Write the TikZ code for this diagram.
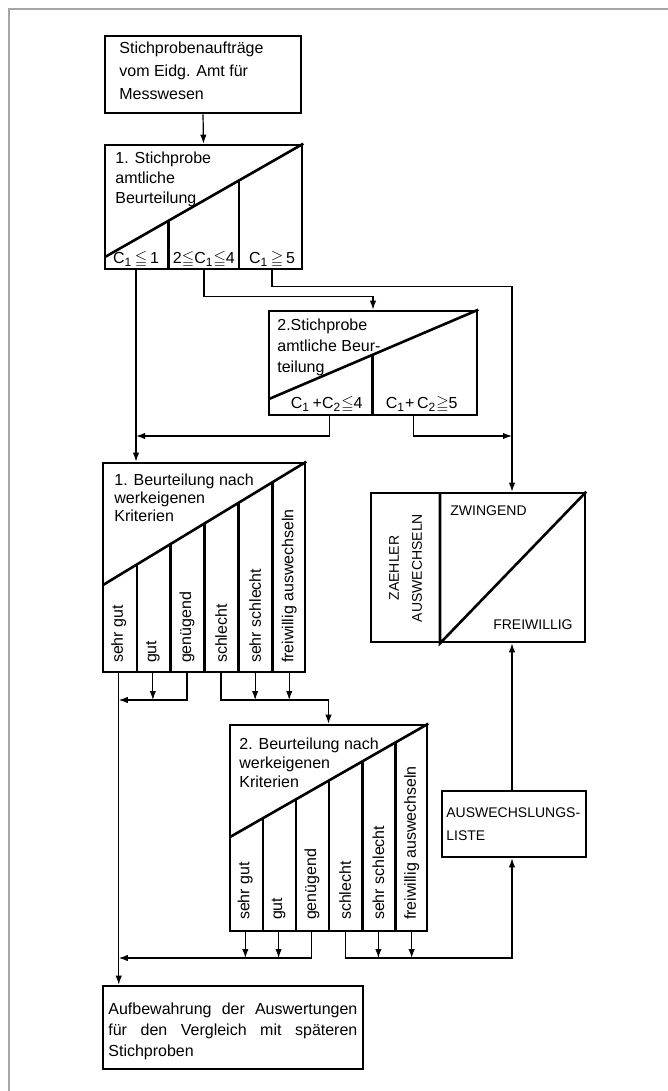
\documentclass[tikz,border=0pt]{standalone}
\usepackage{amssymb}
\usepackage{fontspec}
\setmainfont{Liberation Sans}
\usetikzlibrary{arrows.meta,calc,fit}
\tikzset{
    box/.style={rectangle, draw, line width=1.3pt, inner sep=0pt},
    part/.style={line width=1.3pt},
    line/.style={line width=0.6pt},
    arrow/.style={line, -{Latex[length=4.5pt,width=3.2pt]}},
    frame/.style={line width=0.8pt, gray!70},
    txt/.style={anchor=north west, align=left, inner sep=0pt,
        font=\fontsize{8pt}{#1}\selectfont},
    txt/.default=10pt,
    caps/.style={inner sep=0pt, font=\fontsize{7pt}{#1}\selectfont},
    caps/.default=11.5pt,
    lbl/.style={rotate=90, anchor=west, inner sep=0pt,
        font=\fontsize{8pt}{9pt}\selectfont},
    cnd/.style={anchor=base, inner sep=0pt,
        font=\fontsize{8pt}{9pt}\selectfont}
}
\newcommand{\Cs}[1]{C\textsubscript{#1}}

\begin{document}
\begin{tikzpicture}[x=0.5pt,y=-0.5pt]
    \useasboundingbox (0,0) rectangle (668,1091);
    \draw[frame] (9,1091) -- (9,9) -- (668,9);

    % boxes
    \node[box, fit={(105,36) (301,113)}] (auftrag) {};
    \node[box, fit={(105,145) (302,269)}] (stich1) {};
    \node[box, fit={(269,311) (477,415)}] (stich2) {};
    \node[box, fit={(103,463) (305,672)}] (beurt1) {};
    \node[box, fit={(230,725) (427,931)}] (beurt2) {};
    \node[box, fit={(371,493) (585,642)}] (zaehler) {};
    \node[box, fit={(442,791) (586,857)}] (liste) {};
    \node[box, fit={(103,986) (363,1069)}] (aufbew) {};

    % diagonals and columns
    \coordinate (s1diag) at (105,257);
    \coordinate (s2diag) at (269,399);
    \coordinate (b1diag) at (103,585);
    \coordinate (b2diag) at (230,837);
    \coordinate (zsplit) at (440,493);
    \draw[part] (s1diag) -- (stich1.north east);
    \draw[part] (s2diag) -- (stich2.north east);
    \draw[part] (b1diag) -- (beurt1.north east);
    \draw[part] (b2diag) -- (beurt2.north east);
    \draw[part] (zsplit) -- (zsplit |- zaehler.south) -- (zaehler.north east);
    \foreach \f in {0.32,0.675} {
        \path ($(s1diag)!\f!(stich1.north east)$) coordinate (t);
        \draw[part] (t) -- (t |- stich1.south);
    }
    \path ($(s2diag)!0.495!(stich2.north east)$) coordinate (t);
    \draw[part] (t) -- (t |- stich2.south);
    \foreach \i in {1,...,5} {
        \path ($(b1diag)!\i/6!(beurt1.north east)$) coordinate (t);
        \draw[part] (t) -- (t |- beurt1.south);
        \path ($(b2diag)!\i/6!(beurt2.north east)$) coordinate (t);
        \draw[part] (t) -- (t |- beurt2.south);
    }

    % exits
    \foreach \f/\n in {0.162/1,0.502/2,0.843/3}
        \coordinate (s1c\n) at ($(stich1.south west)!\f!(stich1.south east)$);
    \coordinate (c2a) at ($(stich2.south west)!0.293!(stich2.south east)$);
    \coordinate (c2b) at ($(stich2.south west)!0.692!(stich2.south east)$);
    \foreach \i in {1,...,6} {
        \coordinate (d\i) at ($(beurt1.south west)!{(\i-0.5)/6}!(beurt1.south east)$);
        \coordinate (e\i) at ($(beurt2.south west)!{(\i-0.5)/6}!(beurt2.south east)$);
    }
    \coordinate (rail) at (512,0);
    \coordinate (busA) at (0,436);
    \coordinate (busB) at (0,700);
    \coordinate (busC) at (0,958);

    % texts
    \node[txt=11.5pt] (t-auftrag) at (119,42)
        {Stichprobenaufträge\\vom Eidg. Amt für\\Messwesen};
    \node[txt=10pt] (t-stich1) at (115,152)
        {1. Stichprobe\\amtliche\\Beurteilung};
    \node[txt=10.5pt] (t-stich2) at (277,319)
        {2.Stichprobe\\amtliche Beur-\\teilung};
    \node[txt=9pt] (t-beurt1) at (114,474)
        {1. Beurteilung nach\\werkeigenen\\Kriterien};
    \node[txt=9.5pt] (t-beurt2) at (239,737)
        {2. Beurteilung nach\\werkeigenen\\Kriterien};
    \node[txt=10.5pt] (t-aufbew) at (108,1002)
        {\makebox[124.5pt][s]{Aufbewahrung der Auswertungen}\\
         \makebox[124.5pt][s]{für den Vergleich mit späteren}\\Stichproben};
    \node[caps, anchor=north west, align=left] (t-liste) at (446,807)
        {AUSWECHSLUNGS-\\LISTE};
    \node[caps, anchor=west] (t-zw) at (450,511) {ZWINGEND};
    \node[caps, anchor=east] (t-fw) at (573,625) {FREIWILLIG};
    \node[caps, rotate=90, align=center] (t-zaehler) at (405.5,568)
        {ZAEHLER\\AUSWECHSELN};

    \node[cnd] (k1) at ($(s1c1)+(0,-7)$) {\Cs{1}\,$\leqq$\,1};
    \node[cnd] (k2) at ($(s1c2)+(0,-7)$) {2$\leqq$\Cs{1}$\leqq$4};
    \node[cnd] (k3) at ($(s1c3)+(0,-7)$) {\Cs{1}\,$\geqq$\,5};
    \node[cnd] (k4) at ($(stich2.south west)+(59,-8)$)
        {\Cs{1}\,+\Cs{2}$\leqq$4};
    \node[cnd] (k5) at ($(stich2.south west)+(154,-8)$)
        {\Cs{1}+\,\Cs{2}$\geqq$5};

    \foreach \i/\t in {1/sehr gut,2/gut,3/genügend,4/schlecht,
        5/sehr schlecht,6/freiwillig auswechseln} {
        \node[lbl] (l1-\i) at ($(d\i)+(0,-10)$) {\t};
        \node[lbl] (l2-\i) at ($(e\i)+(0,-12)$) {\t};
    }

    % connectors
    \draw[arrow] (auftrag.south) -- (stich1.north);
    \draw[arrow] (s1c1) -- (s1c1 |- beurt1.north);
    \draw[arrow] (s1c2) -- ++(0,26) -| (stich2.north);
    \draw[arrow] (s1c3) -- ++(0,16) -| (rail |- zaehler.north);
    \draw[arrow] (c2a) |- (busA -| s1c1);
    \draw[arrow] (c2b) |- (busA -| rail);

    \draw[arrow] (d1) -- (d1 |- aufbew.north);
    \foreach \i in {2,5,6}
        \draw[arrow] (d\i) -- (d\i |- busB);
    \draw[arrow] (d3) |- (busB -| d1);
    \draw[arrow] (d4) |- (busB -| beurt2.north) -- (beurt2.north);

    \foreach \i in {1,2,5,6}
        \draw[arrow] (e\i) -- (e\i |- busC);
    \draw[arrow] (e3) |- (busC -| d1);
    \draw[arrow] (e4) |- (busC -| rail) -- (rail |- liste.south);
    \draw[arrow] (rail |- liste.north) -- (rail |- zaehler.south);
\end{tikzpicture}
\end{document}
